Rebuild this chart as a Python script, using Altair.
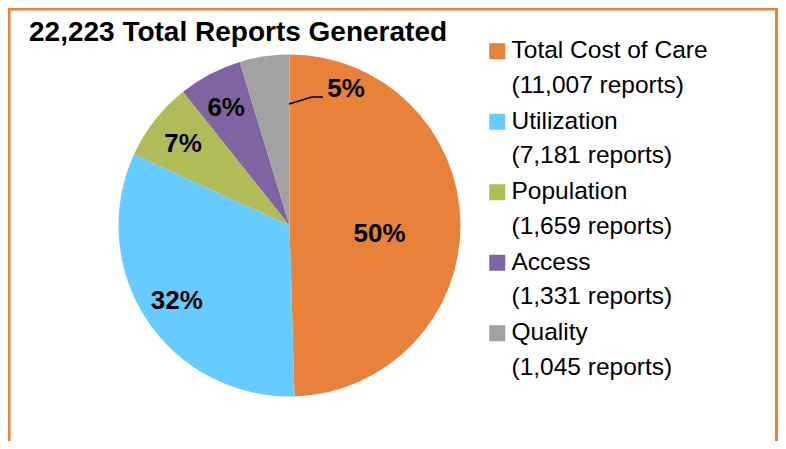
import altair as alt
import pandas as pd

categories = ["Total Cost of Care", "Utilization", "Population", "Access", "Quality"]
reports = [11007, 7181, 1659, 1331, 1045]
count_labels = ["(11,007 reports)", "(7,181 reports)", "(1,659 reports)",
                "(1,331 reports)", "(1,045 reports)"]
percent_labels = ["50%", "32%", "7%", "6%", "5%"]
colors = ["#E8823A", "#66CBFF", "#B1BB57", "#8064A1", "#A2A2A4"]
title_text = "22,223 Total Reports Generated"

legend_labels = [c + "|" + n for c, n in zip(categories, count_labels)]
df = pd.DataFrame({
    "legend": legend_labels,
    "reports": reports,
    "pct": percent_labels,
    "idx": list(range(len(categories))),
})

FONT = "Liberation Sans"
BORDER = "#E8823A"
W, H = 769, 432
CX, CY = 280.5, 216.5

base = alt.Chart(df).encode(
    theta=alt.Theta("reports:Q", stack=True),
    order=alt.Order("idx:Q"),
)

pie = base.mark_arc(radius=171, x=CX, y=CY).encode(
    color=alt.Color(
        "legend:N",
        scale=alt.Scale(domain=legend_labels, range=colors),
        sort=legend_labels,
        legend=alt.Legend(
            title=None,
            orient="none",
            legendX=476,
            legendY=30,
            padding=0,
            symbolType="square",
            symbolSize=256,
            symbolStrokeWidth=0,
            symbolOpacity=1,
            labelFont=FONT,
            labelFontSize=24.5,
            labelColor="#000000",
            labelLimit=400,
            labelOffset=2,
            labelBaseline="middle",
            labelExpr="split(datum.label, '|')",
            rowPadding=10.5,
        ),
    )
)

def pct_layer(cond, r, dx=0, dy=0):
    return base.mark_text(
        radius=r, x=CX, y=CY, dx=dx, dy=dy, font=FONT, fontSize=26,
        fontWeight="bold", color="#000000", align="center", baseline="middle",
    ).encode(text=alt.condition(cond, "pct:N", alt.value("")))

big_label = pct_layer(alt.datum.idx == 0, 91, dx=-1, dy=10)
mid_labels = pct_layer((alt.datum.idx >= 1) & (alt.datum.idx <= 3), 134, dx=-1, dy=1)
small_label = pct_layer(alt.datum.idx == 4, 149, dx=78.5, dy=11)

one = pd.DataFrame({"t": [title_text]})

def rule(x1, y1, x2, y2, color, width):
    return alt.Chart(one).mark_rule(color=color, strokeWidth=width).encode(
        x=alt.value(x1), y=alt.value(y1), x2=alt.value(x2), y2=alt.value(y2))

leader1 = rule(280, 95, 303, 88, "#000000", 1.5)
leader2 = rule(303, 88, 314, 88, "#000000", 1.5)

RX = W - 1.5
border_top = rule(-1.5, 0, RX + 1.5, 0, BORDER, 3)
border_left = rule(0, 0, 0, H, BORDER, 3)
border_right = rule(RX, 0, RX, H, BORDER, 3)

title = alt.Chart(one).mark_text(
    x=20, y=32, align="left", baseline="alphabetic", font=FONT,
    fontSize=28, fontWeight="bold", color="#000000",
).encode(text="t:N")

chart = alt.layer(
    pie, big_label, mid_labels, small_label, leader1, leader2, title,
    border_top, border_left, border_right,
).properties(
    width=W, height=H, autosize="none",
    padding={"left": 1, "top": 1, "right": 0, "bottom": 0},
    background="white",
).configure(
    style={"guide-label": {"lineHeight": 34.5}},
).configure_view(stroke=None, fill="white")

chart.save("out.html", embed_options={"renderer": "svg", "actions": False})
